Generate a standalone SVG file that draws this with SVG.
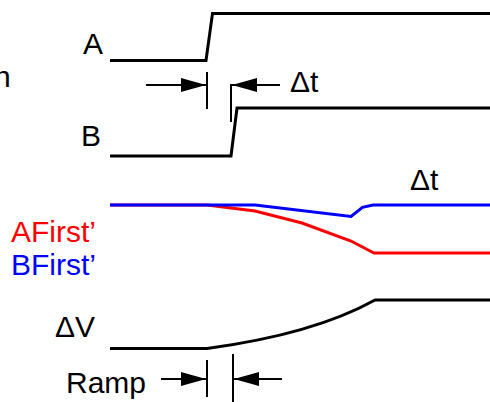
<svg xmlns="http://www.w3.org/2000/svg" width="490" height="402" viewBox="0 0 490 402">
<defs>
<style>
text{font-family:"Liberation Sans",Arial,sans-serif;font-size:30px;fill:#000}
.sig{fill:none;stroke:#000;stroke-width:3;stroke-linejoin:miter}
.dim{fill:none;stroke:#000;stroke-width:2}
.red{fill:none;stroke:#ff0000;stroke-width:3}
.blue{fill:none;stroke:#0000ff;stroke-width:3}
</style>
<marker id="ah" markerUnits="userSpaceOnUse" markerWidth="25" markerHeight="16" viewBox="0 0 25 16" refX="25" refY="8" orient="auto">
<path d="M0,1 L25,8 L0,15 Z" fill="#000"/>
</marker>
</defs>
<rect width="490" height="402" fill="#fff"/>
<text x="-6" y="87">n</text>
<g id="A">
<text x="83" y="54">A</text>
<path class="sig" d="M110,60.5 L206,60.5 L212.5,13.5 L490,13.5"/>
</g>
<g id="B">
<text x="81" y="146">B</text>
<path class="sig" d="M110,156 L231,156 L237,108 L490,108"/>
</g>
<g id="delay-labels">
<text x="290" y="92">Δt</text>
<text x="410" y="190">Δt</text>
</g>
<g id="firsts">
<text x="11" y="242" style="fill:#ff0000">AFirst’</text>
<text x="11" y="275" style="fill:#0000ff">BFirst’</text>
<path class="red" d="M110,205 L207,205 L255,211 L302,223 L351,241 L374,253 L490,253"/>
<path class="blue" d="M110,205 L255,205 L351,216.5 L362.5,207.3 L373,205 L490,205"/>
</g>
<g id="dV">
<text x="55" y="337">ΔV</text>
<path class="sig" d="M110,348.5 L207,348.5 C270,340 330,325 375,300 L490,300"/>
</g>
<g id="ramp">
<text x="66" y="393">Ramp</text>
</g>
<g id="connectors">
<line class="dim" x1="146" y1="85" x2="206" y2="85" marker-end="url(#ah)"/>
<line class="dim" x1="207" y1="72" x2="207" y2="109"/>
<line class="dim" x1="231" y1="84" x2="231" y2="122"/>
<line class="dim" x1="280" y1="85" x2="232" y2="85" marker-end="url(#ah)"/>
<line class="dim" x1="161" y1="379" x2="206" y2="379" marker-end="url(#ah)"/>
<line class="dim" x1="207" y1="360" x2="207" y2="397"/>
<line class="dim" x1="233" y1="354" x2="233" y2="402"/>
<line class="dim" x1="282" y1="379" x2="234" y2="379" marker-end="url(#ah)"/>
</g>
</svg>
